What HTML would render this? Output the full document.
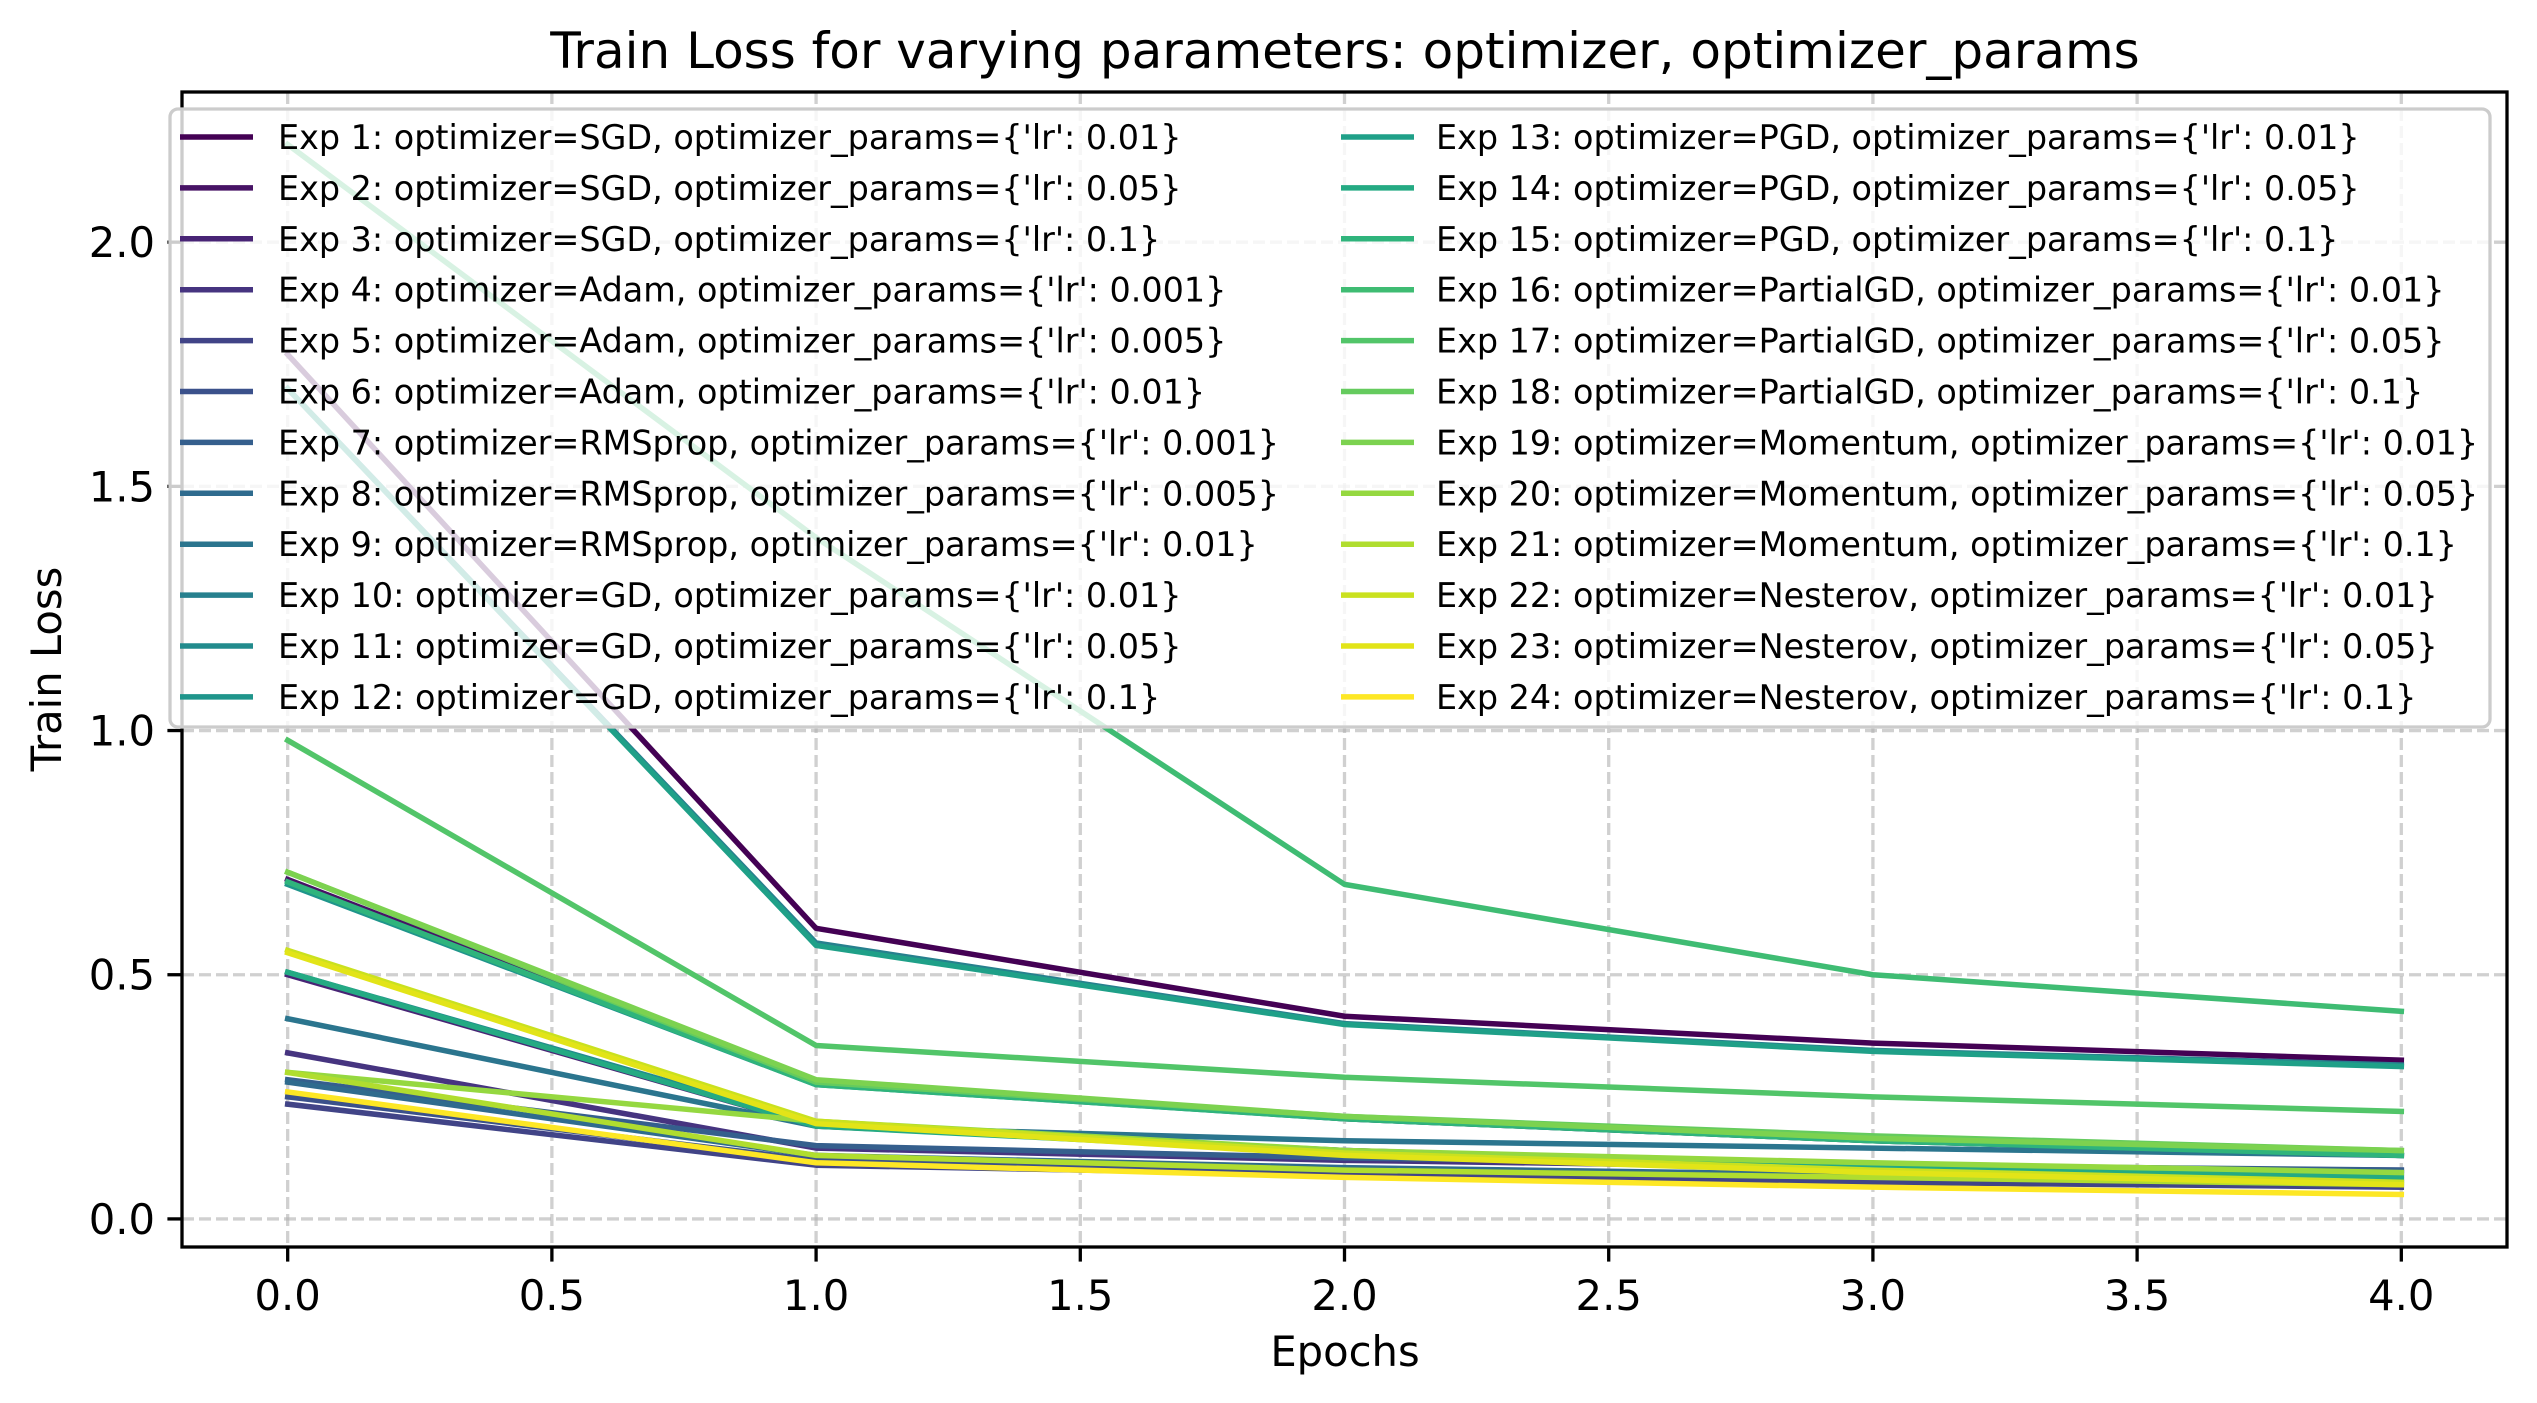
<!DOCTYPE html>
<html><head><meta charset="utf-8"><style>
html,body{margin:0;padding:0;background:#fff}
svg{display:block;font-family:"DejaVu Sans","Liberation Sans",sans-serif}
</style></head><body>
<svg id="chart" width="2537" height="1403" viewBox="0 0 2537 1403" xmlns="http://www.w3.org/2000/svg">
<rect width="2537" height="1403" fill="#fff"/>
<g id="grid"></g>
<g id="series"></g>
<g id="axes"></g>
<g id="legend"></g>
<text x="1345" y="68" font-size="50" text-anchor="middle">Train Loss for varying parameters: optimizer, optimizer_params</text>
<text x="1345" y="1366" font-size="41.7" text-anchor="middle">Epochs</text>
<text x="0" y="0" font-size="41.7" text-anchor="middle" transform="translate(61,669) rotate(-90)">Train Loss</text>
</svg>
<script>
const epochs = [0, 1, 2, 3, 4];
const xTicks = [0.0, 0.5, 1.0, 1.5, 2.0, 2.5, 3.0, 3.5, 4.0];
const yTicks = [0.0, 0.5, 1.0, 1.5, 2.0];
const labels = [
"Exp 1: optimizer=SGD, optimizer_params={'lr': 0.01}",
"Exp 2: optimizer=SGD, optimizer_params={'lr': 0.05}",
"Exp 3: optimizer=SGD, optimizer_params={'lr': 0.1}",
"Exp 4: optimizer=Adam, optimizer_params={'lr': 0.001}",
"Exp 5: optimizer=Adam, optimizer_params={'lr': 0.005}",
"Exp 6: optimizer=Adam, optimizer_params={'lr': 0.01}",
"Exp 7: optimizer=RMSprop, optimizer_params={'lr': 0.001}",
"Exp 8: optimizer=RMSprop, optimizer_params={'lr': 0.005}",
"Exp 9: optimizer=RMSprop, optimizer_params={'lr': 0.01}",
"Exp 10: optimizer=GD, optimizer_params={'lr': 0.01}",
"Exp 11: optimizer=GD, optimizer_params={'lr': 0.05}",
"Exp 12: optimizer=GD, optimizer_params={'lr': 0.1}",
"Exp 13: optimizer=PGD, optimizer_params={'lr': 0.01}",
"Exp 14: optimizer=PGD, optimizer_params={'lr': 0.05}",
"Exp 15: optimizer=PGD, optimizer_params={'lr': 0.1}",
"Exp 16: optimizer=PartialGD, optimizer_params={'lr': 0.01}",
"Exp 17: optimizer=PartialGD, optimizer_params={'lr': 0.05}",
"Exp 18: optimizer=PartialGD, optimizer_params={'lr': 0.1}",
"Exp 19: optimizer=Momentum, optimizer_params={'lr': 0.01}",
"Exp 20: optimizer=Momentum, optimizer_params={'lr': 0.05}",
"Exp 21: optimizer=Momentum, optimizer_params={'lr': 0.1}",
"Exp 22: optimizer=Nesterov, optimizer_params={'lr': 0.01}",
"Exp 23: optimizer=Nesterov, optimizer_params={'lr': 0.05}",
"Exp 24: optimizer=Nesterov, optimizer_params={'lr': 0.1}"];
const colors = ["#440154","#471365","#482475","#463480","#414487","#3b518b","#355f8d","#2f6b8e","#2b758e","#27808e","#228b8d","#1f958b","#1fa088","#24aa83","#2fb47c","#3fbc73","#52c569","#65cb5e","#7cd250","#95d840","#b0dd2f","#cae11f","#e2e418","#fde725"];
const exp1 = [1.77,0.595,0.415,0.36,0.325];
const exp2 = [0.695,0.28,0.205,0.16,0.13];
const exp3 = [0.50,0.19,0.14,0.11,0.095];
const exp4 = [0.34,0.145,0.12,0.105,0.10];
const exp5 = [0.235,0.11,0.09,0.075,0.065];
const exp6 = [0.25,0.12,0.10,0.085,0.075];
const exp7 = [0.285,0.15,0.125,0.11,0.10];
const exp8 = [0.28,0.13,0.105,0.09,0.08];
const exp9 = [0.41,0.19,0.16,0.145,0.13];
const exp10 = [1.7,0.565,0.40,0.345,0.315];
const exp11 = [0.505,0.195,0.14,0.11,0.09];
const exp12 = [0.685,0.275,0.205,0.16,0.13];
const exp13 = [1.7,0.56,0.398,0.343,0.312];
const exp14 = [0.505,0.19,0.135,0.105,0.085];
const exp15 = [0.69,0.275,0.205,0.16,0.13];
const exp16 = [2.2,1.395,0.685,0.50,0.425];
const exp17 = [0.98,0.355,0.29,0.25,0.22];
const exp18 = [0.71,0.28,0.21,0.17,0.14];
const exp19 = [0.71,0.285,0.21,0.165,0.14];
const exp20 = [0.30,0.20,0.14,0.115,0.095];
const exp21 = [0.30,0.13,0.10,0.085,0.07];
const exp22 = [0.55,0.20,0.135,0.10,0.075];
const exp23 = [0.545,0.195,0.13,0.095,0.07];
const exp24 = [0.26,0.115,0.085,0.065,0.05];
const seriesValues = [exp1,exp2,exp3,exp4,exp5,exp6,exp7,exp8,exp9,exp10,exp11,exp12,exp13,exp14,exp15,exp16,exp17,exp18,exp19,exp20,exp21,exp22,exp23,exp24];

const NS = "http://www.w3.org/2000/svg";
const L = 182, R = 2507, T = 92, B = 1247;
const xmin = -0.2, xmax = 4.2;
let allV = seriesValues.flat();
let vmin = Math.min(...allV), vmax = Math.max(...allV), pad = (vmax - vmin) * 0.05;
const ymin = vmin - pad, ymax = vmax + pad;
const xs = v => L + (v - xmin) / (xmax - xmin) * (R - L);
const ys = v => B - (v - ymin) / (ymax - ymin) * (B - T);
function mk(tag, attrs, parent) { const e = document.createElementNS(NS, tag); for (const k in attrs) e.setAttribute(k, attrs[k]); parent.appendChild(e); return e; }
const grid = document.getElementById('grid'), axes = document.getElementById('axes'), ser = document.getElementById('series'), leg = document.getElementById('legend');
xTicks.forEach(t => {
  const g = mk('line', {x1: xs(t), x2: xs(t), y1: T, y2: B, stroke: '#b0b0b0', 'stroke-opacity': 0.6, 'stroke-width': 3.3, 'stroke-dasharray': '12,5'}, grid);
  
  
  const tk = mk('line', {x1: xs(t), x2: xs(t), y1: B, y2: B + 14.6, stroke: '#000', 'stroke-width': 3.3}, axes);
  
  
  const tx = mk('text', {x: xs(t), y: B + 63, 'font-size': 41.7, 'text-anchor': 'middle'}, axes);
  tx.textContent = t.toFixed(1);
  
  
});
yTicks.forEach(t => {
  const g = mk('line', {x1: L, x2: R, y1: ys(t), y2: ys(t), stroke: '#b0b0b0', 'stroke-opacity': 0.6, 'stroke-width': 3.3, 'stroke-dasharray': '12,5'}, grid);
  
  
  const tk = mk('line', {x1: L - 14.6, x2: L, y1: ys(t), y2: ys(t), stroke: '#000', 'stroke-width': 3.3}, axes);
  
  
  const tx = mk('text', {x: L - 27, y: ys(t) + 15, 'font-size': 41.7, 'text-anchor': 'end'}, axes);
  tx.textContent = t.toFixed(1);
  
  
});
const frame = mk('rect', {x: L, y: T, width: R - L, height: B - T, fill: 'none', stroke: '#000', 'stroke-width': 3.3}, axes);


seriesValues.forEach((vals, i) => {
  const pts = vals.map((v, j) => xs(epochs[j]) + ',' + ys(v)).join(' ');
  const pl = mk('polyline', {points: pts, fill: 'none', stroke: colors[i], 'stroke-width': 5.5, 'stroke-linejoin': 'round', 'stroke-linecap': 'square'}, ser);
  
  
});
const box = mk('rect', {x: 170, y: 109, width: 2320, height: 618, rx: 8, fill: '#fff', 'fill-opacity': 0.8, stroke: '#cccccc', 'stroke-width': 3.3}, leg);


labels.forEach((lab, i) => {
  const col = Math.floor(i / 12), row = i % 12;
  const hx = col === 0 ? 180 : 1341, tx = col === 0 ? 278 : 1436;
  const y = 137 + row * 50.9;
  const g = mk('g', {}, leg);
  
  
  mk('line', {x1: hx, x2: hx + 73, y1: y, y2: y, stroke: colors[i], 'stroke-width': 5.5}, g);
  const t = mk('text', {x: tx, y: y + 12, 'font-size': 33.4}, g);
  t.textContent = lab;
});
</script>
</body></html>
